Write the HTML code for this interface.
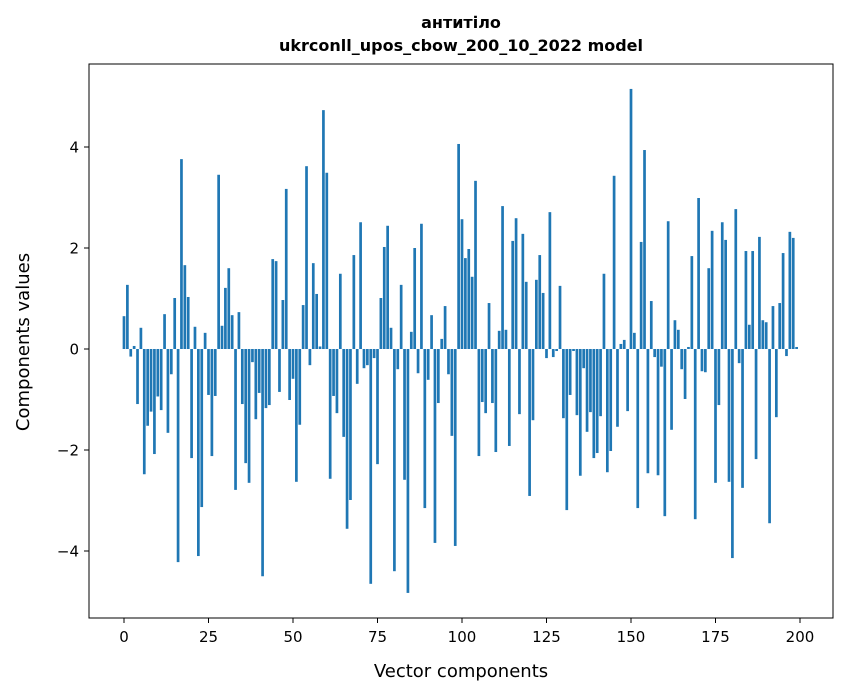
<!DOCTYPE html>
<html><head><meta charset="utf-8"><style>
body{margin:0;background:#fff;font-family:"DejaVu Sans","Liberation Sans",sans-serif}
</style></head><body>
<svg width="847" height="696" xmlns="http://www.w3.org/2000/svg" font-family="DejaVu Sans, Liberation Sans, sans-serif">
<text x="461" y="28" text-anchor="middle" font-size="16" font-weight="bold">антитіло</text>
<text x="461" y="51" text-anchor="middle" font-size="16" font-weight="bold">ukrconll_upos_cbow_200_10_2022 model</text>
<g id="bars"></g>
<g id="xt"></g>
<g id="yt"></g>
<rect x="89" y="64" width="744" height="554" fill="none" stroke="#000" stroke-width="1"/>
<text x="461" y="677" text-anchor="middle" font-size="18">Vector components</text>
<text transform="translate(29,342) rotate(-90)" text-anchor="middle" font-size="18">Components values</text>
</svg>
<script>
const values=[0.65,1.27,-0.15,0.06,-1.09,0.42,-2.48,-1.52,-1.24,-2.08,-0.94,-1.21,0.69,-1.66,-0.5,1.01,-4.22,3.76,1.66,1.03,
-2.16,0.44,-4.1,-3.13,0.32,-0.91,-2.12,-0.93,3.45,0.46,1.21,1.6,0.67,-2.79,0.73,-1.09,-2.26,-2.65,-0.26,-1.39,
-0.87,-4.5,-1.17,-1.11,1.78,1.74,-0.85,0.97,3.17,-1.01,-0.59,-2.63,-1.5,0.87,3.62,-0.32,1.7,1.09,0.05,4.73,
3.49,-2.57,-0.93,-1.27,1.49,-1.74,-3.56,-2.99,1.86,-0.69,2.51,-0.38,-0.32,-4.65,-0.18,-2.28,1.01,2.02,2.44,0.42,
-4.4,-0.4,1.27,-2.59,-4.83,0.34,2.0,-0.48,2.48,-3.15,-0.61,0.67,-3.84,-1.07,0.2,0.85,-0.5,-1.72,-3.9,4.06,
2.57,1.8,1.98,1.43,3.33,-2.12,-1.05,-1.27,0.91,-1.07,-2.04,0.36,2.83,0.38,-1.92,2.14,2.59,-1.29,2.28,1.33,
-2.91,-1.41,1.37,1.86,1.11,-0.18,2.71,-0.16,-0.04,1.25,-1.37,-3.19,-0.91,-0.04,-1.31,-2.51,-0.38,-1.64,-1.25,-2.16,
-2.06,-1.33,1.49,-2.44,-2.02,3.43,-1.54,0.1,0.18,-1.23,5.15,0.32,-3.15,2.12,3.94,-2.46,0.95,-0.16,-2.5,-0.35,
-3.31,2.53,-1.6,0.57,0.38,-0.4,-0.99,0.04,1.84,-3.37,2.99,-0.44,-0.46,1.6,2.34,-2.65,-1.11,2.51,2.16,-2.63,
-4.14,2.77,-0.28,-2.75,1.94,0.48,1.94,-2.18,2.22,0.57,0.53,-3.45,0.85,-1.35,0.91,1.9,-0.14,2.32,2.2,0.04];
const xTicks=[0,25,50,75,100,125,150,175,200];
const yTicks=[-4,-2,0,2,4];
const NS="http://www.w3.org/2000/svg";
const xs=v=>124+v*3.38;
const ys=v=>349-v*50.5;
const bars=document.getElementById('bars');
values.forEach((v,i)=>{
 const r=document.createElementNS(NS,'rect');
 
 
 const x0=xs(i-0.4),x1=xs(i+0.4);
 r.setAttribute('x',x0);r.setAttribute('width',x1-x0);
 r.setAttribute('y',Math.min(ys(v),ys(0)));r.setAttribute('height',Math.abs(ys(v)-ys(0)));
 r.setAttribute('fill','#1f77b4');bars.appendChild(r);
});
const xt=document.getElementById('xt');
xTicks.forEach(t=>{
 const l=document.createElementNS(NS,'line');
 
 
 l.setAttribute('x1',xs(t));l.setAttribute('x2',xs(t));l.setAttribute('y1',618);l.setAttribute('y2',623);l.setAttribute('stroke','#000');xt.appendChild(l);
 const tx=document.createElementNS(NS,'text');
 
 
 tx.setAttribute('x',xs(t));tx.setAttribute('y',642);tx.setAttribute('text-anchor','middle');tx.setAttribute('font-size','15');tx.textContent=t;xt.appendChild(tx);
});
const yt=document.getElementById('yt');
yTicks.forEach(t=>{
 const l=document.createElementNS(NS,'line');
 
 
 l.setAttribute('x1',84);l.setAttribute('x2',89);l.setAttribute('y1',ys(t));l.setAttribute('y2',ys(t));l.setAttribute('stroke','#000');yt.appendChild(l);
 const tx=document.createElementNS(NS,'text');
 
 
 tx.setAttribute('x',79);tx.setAttribute('y',ys(t)+5.5);tx.setAttribute('text-anchor','end');tx.setAttribute('font-size','15');tx.textContent=t<0?'\u2212'+Math.abs(t):t;yt.appendChild(tx);
});
</script>
</body></html>
